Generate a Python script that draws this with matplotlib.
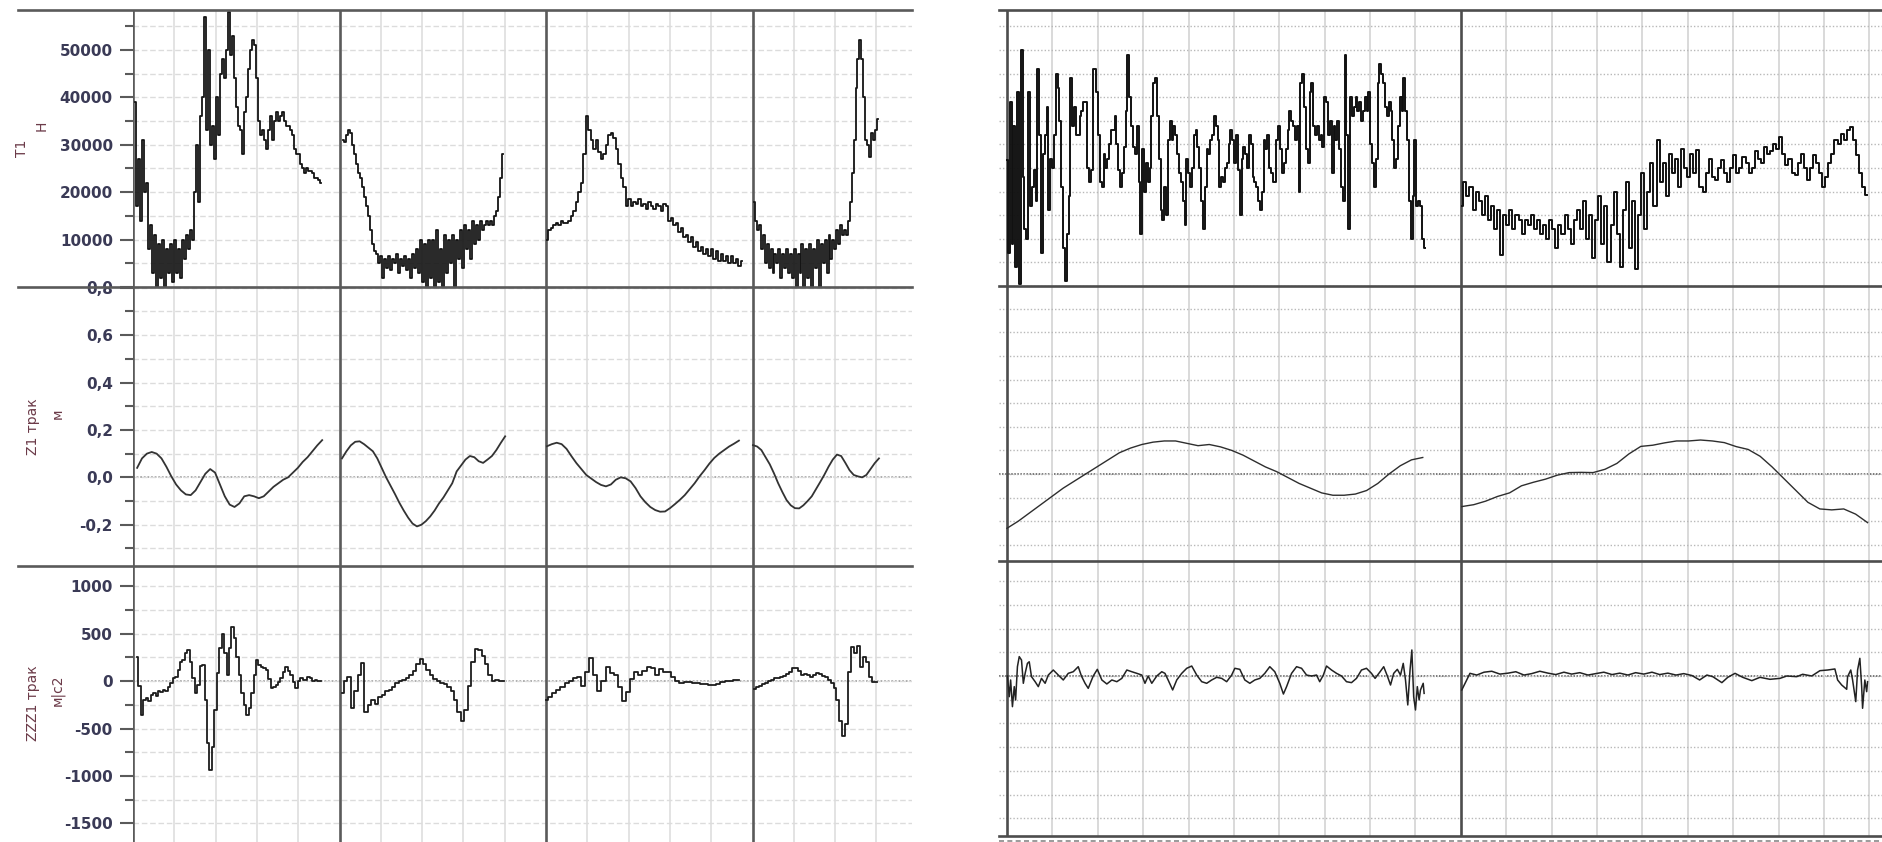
import numpy as np
import matplotlib
matplotlib.use("Agg")
import matplotlib.pyplot as plt
from matplotlib.lines import Line2D
from matplotlib.transforms import Bbox, TransformedBbox
from matplotlib.ticker import MultipleLocator

# ---------------- data ----------------
# left block: 4 passes, time in grid units (5 units per pass)
t1_left_span = [(0.05, 4.55), (5.08, 8.96), (10.02, 14.74), (15.04, 18.03)]
t1_left_kn = [
    [39, 17, 27, 14, 31, 20, 22, 8, 13, 3, 11, 0, 9, 2, 10, 0, 8, 3, 9, 1, 10, 3, 8, 2, 10, 6,
     11, 8, 12, 10, 20, 30, 18, 36, 40, 57, 33, 50, 30, 34, 27, 40, 32, 45, 48, 44, 50, 58, 49,
     53, 44, 38, 34, 33, 28, 37, 40, 46, 50, 52, 51, 44, 35, 32, 33, 31, 29, 33, 36, 31, 35, 37,
     35, 36, 37, 35, 34, 34, 33, 32, 29, 28, 28, 26, 25, 24, 25, 24.5, 24.5, 24, 23, 23, 22.5, 22],
    [31, 30.5, 32, 33, 32.5, 30, 28, 26, 24, 23, 21, 19, 17, 15, 12, 9, 7.5, 7, 5, 6.5, 2, 6, 4,
     6.5, 3.5, 6, 5, 7, 3, 6, 4.5, 6.5, 3.5, 6, 2, 7, 4, 8, 3, 10, 1, 9, 0, 10, 2, 10, 0, 12, 1,
     8, 0, 11, 3, 10, 5, 11, 0, 10, 6, 12, 4, 13, 8, 12, 6, 14, 9, 13, 10, 14, 12, 13, 14, 13,
     14, 13, 15, 16, 19, 23, 28],
    [10, 12, 12.5, 13, 13.5, 13, 14, 13.5, 13.5, 14, 15, 16, 18, 20, 22, 28, 36, 33, 31, 29, 31,
     28.5, 27, 28, 30, 32, 32.5, 31.5, 29, 26, 23, 21, 17, 18.5, 17, 18, 17.5, 18.5, 17, 17.5,
     16.5, 18, 17, 16.5, 17.5, 17, 16, 17.5, 17, 14, 14.5, 13, 13.5, 11.5, 12.5, 10.5, 11, 9.5,
     10.5, 8.5, 9.5, 7.5, 8.5, 7, 8, 6.5, 8, 6, 7.5, 5.5, 7, 5.5, 6.5, 5, 6.5, 5, 6, 4.5, 5.5],
    [18, 14, 12, 13, 8, 11, 5, 9, 4, 8, 3, 7, 5, 8, 2, 7, 4, 8, 3, 7, 2, 8, 0, 7, 3, 9, 0, 8, 2,
     9, 0, 8, 4, 10, 0, 9, 5, 10, 3, 11, 6, 10, 8, 12, 9, 13, 11, 12, 11, 14, 18, 24, 31, 42, 48,
     52, 48, 40, 31, 30, 27.5, 32.5, 31, 33, 35.5],
]

z_left_span = [(0.10, 4.58), (5.06, 9.01), (10.02, 14.67), (15.01, 18.06)]
z_left_m = [
    [0.04, 0.08, 0.10, 0.107, 0.10, 0.08, 0.045, 0.005, -0.03, -0.055, -0.072, -0.075, -0.055,
     -0.02, 0.015, 0.035, 0.02, -0.03, -0.08, -0.115, -0.125, -0.11, -0.08, -0.075, -0.08, -0.088,
     -0.08, -0.06, -0.04, -0.025, -0.01, 0.0, 0.02, 0.04, 0.065, 0.085, 0.11, 0.135, 0.157],
    [0.08, 0.11, 0.135, 0.15, 0.152, 0.14, 0.125, 0.11, 0.08, 0.04, 0.0, -0.035, -0.07, -0.107,
     -0.14, -0.17, -0.195, -0.207, -0.2, -0.185, -0.165, -0.14, -0.11, -0.085, -0.055, -0.025,
     0.025, 0.05, 0.075, 0.09, 0.085, 0.068, 0.061, 0.075, 0.09, 0.115, 0.145, 0.173],
    [0.131, 0.14, 0.146, 0.14, 0.12, 0.089, 0.06, 0.035, 0.01, -0.005, -0.02, -0.032, -0.038,
     -0.03, -0.01, 0.0, -0.004, -0.017, -0.045, -0.08, -0.105, -0.125, -0.138, -0.145, -0.144,
     -0.13, -0.113, -0.095, -0.075, -0.05, -0.025, 0.004, 0.03, 0.058, 0.082, 0.1, 0.115, 0.13,
     0.142, 0.155],
    [0.136, 0.13, 0.115, 0.085, 0.055, 0.017, -0.025, -0.062, -0.096, -0.118, -0.13, -0.131,
     -0.118, -0.1, -0.08, -0.05, -0.02, 0.011, 0.045, 0.075, 0.096, 0.09, 0.061, 0.03, 0.01,
     0.004, 0.0, 0.01, 0.035, 0.06, 0.08],
]

zzz_left_span = [(0.10, 4.55), (5.06, 8.98), (10.0, 14.67), (15.04, 18.01)]
zzz_left_ms2 = [
    [250, -50, -360, -200, -180, -210, -150, -130, -160, -110, -120, -90, -100, -60, -20, 30, 40,
     115, 200, 220, 290, 330, 200, 30, -130, -40, 160, 170, -200, -650, -940, -700, -300, 80, 350,
     500, 300, 60, 350, 570, 450, 250, 60, -130, -250, -360, -280, -130, 60, 220, 170, 150, 140,
     120, 20, -70, -60, -40, -10, 30, 100, 150, 110, 60, -10, -70, 0, 30, 10, 10, 40, 30, 5, 10, 0, 0],
    [-130, 0, 40, -280, -100, 60, 190, -330, -250, -200, -240, -170, -150, -110, -90, -60, -20, 0,
     10, 30, 60, 110, 180, 230, 180, 120, 60, 20, 0, -20, -30, -60, -110, -200, -330, -420, -300,
     -50, 200, 340, 330, 260, 180, 60, 0, 10, 0, 0],
    [-200, -170, -130, -90, -60, -20, 0, 30, 40, -50, 100, 240, 60, -100, 0, 150, 80, 60, -60,
     -210, -120, 20, 100, 60, 110, 150, 140, 60, 130, 90, 100, 40, 0, -20, -15, -10, -20, -20,
     -30, -35, -40, -40, -30, -15, 0, 5, 10, 10],
    [-80, -65, -50, -35, -20, -5, 15, 30, 35, 45, 55, 75, 100, 140, 140, 110, 60, 75, 60, 40, 60,
     85, 75, 55, 40, 10, -20, -70, -200, -420, -575, -450, 100, 360, 300, 370, 150, 250, 200, 40,
     -10, -15],
]

# right block: 2 passes, 10 grid units each
t1_right_span = [(0.0, 9.2), (10.02, 18.94)]
t1_right_kn = [
    [26.7, 6.9, 39, 9, 34, 4, 41, 0.5, 50, 23, 12, 10, 41, 17, 21, 24.5, 18, 46, 32, 7, 28, 32,
     38, 16, 27, 25, 32, 45, 42, 35, 21, 8, 1, 11, 19, 44, 34, 38, 32, 32, 36, 37, 39, 39, 25, 22,
     24.5, 46, 46, 41, 32, 22, 21, 28, 25, 27, 30, 33, 33, 36, 30, 24.5, 21, 24, 29.5, 37, 49, 40,
     34, 29.5, 28, 34, 22, 11, 29, 20, 26, 22, 25, 36, 43, 44, 36, 27, 16, 14, 21, 15, 31, 35, 31,
     34, 32, 28, 24, 22, 18, 13, 27, 24, 21, 25, 32, 33, 29.5, 25, 18, 12, 21, 29, 28, 31, 32, 36,
     34, 31, 21, 23, 22, 25, 26, 30, 33, 31, 26, 32, 24.5, 15, 27, 29.5, 28, 25, 32, 30, 23, 22,
     21, 18, 16, 20, 31, 29, 32, 25, 24, 22, 22, 31, 34, 29, 24, 26, 29, 33, 37, 35, 34, 31, 34,
     20, 43, 45, 38, 29, 26, 41, 43, 34, 32, 34, 31, 32, 29.5, 40, 39, 32, 35, 24, 34, 31, 35, 29,
     21, 18, 49, 32, 12, 40, 36, 38, 40, 37, 39, 35, 37, 40, 37, 41, 30, 26, 21, 27, 43, 47, 45,
     43, 38, 36, 39, 37, 31, 25, 27, 34, 40, 37, 44, 37, 31, 18, 10, 19, 31, 17, 18, 17, 10, 8],
    [17, 22, 19, 21, 16, 20, 18, 15, 19, 14, 17, 12, 16,
     6.5, 15, 13, 16, 12, 15, 14, 11, 14, 13, 15, 12, 14,
     11, 13, 10, 14, 12, 8, 13, 11, 15, 12, 9, 14, 16,
     12, 18, 10, 15, 6, 14, 19, 9, 17, 5, 13, 20, 11,
     4, 16, 22, 8, 18, 3.5, 15, 24, 12, 20, 26, 17, 31,
     22, 26, 19, 28, 24, 27, 21, 29, 25, 23, 28, 24, 28.8,
     21, 20, 24, 27, 23, 22.5, 25, 26.7, 24, 22, 25, 27.7, 24,
     25, 27.4, 26, 24, 25, 28.5, 27, 26, 29.5, 28, 28.5, 30, 29,
     31.6, 28, 25.6, 27, 24, 23.5, 26, 28, 25, 22.5, 25, 27.7, 26,
     24, 21, 23, 26, 28, 31, 30, 32.3, 31, 33, 33.7, 31, 27.7,
     23.9, 21, 19.3],
]

z_right_span = [(0.0, 9.16), (10.02, 18.96)]
z_right_m = [
    [-0.23, -0.2, -0.165, -0.13, -0.095, -0.06, -0.03, 0.0, 0.03, 0.06, 0.09, 0.11, 0.125, 0.135,
     0.14, 0.14, 0.13, 0.12, 0.125, 0.115, 0.1, 0.08, 0.055, 0.03, 0.01, -0.015, -0.04, -0.06,
     -0.08, -0.09, -0.09, -0.085, -0.07, -0.04, 0.0, 0.035, 0.06, 0.07],
    [-0.138, -0.13, -0.115, -0.095, -0.08, -0.05, -0.035, -0.022, -0.005, 0.006, 0.007, 0.006,
     0.02, 0.045, 0.085, 0.117, 0.122, 0.132, 0.14, 0.14, 0.144, 0.14, 0.133, 0.116, 0.104, 0.075,
     0.03, -0.02, -0.07, -0.12, -0.148, -0.152, -0.148, -0.17, -0.206],
]

zzz_right_t1 = [0.01, 0.05, 0.08, 0.12, 0.16, 0.19, 0.23, 0.27, 0.32, 0.36, 0.40, 0.45, 0.49, 0.54,
                0.62, 0.69, 0.76, 0.84, 0.91, 1.02, 1.13, 1.24, 1.35, 1.46, 1.57, 1.64, 1.72, 1.79,
                1.90, 1.99, 2.09, 2.20, 2.31, 2.42, 2.53, 2.64, 2.75, 2.86, 2.97, 3.04, 3.11, 3.19,
                3.30, 3.41, 3.48, 3.55, 3.65, 3.74, 3.85, 3.96, 4.07, 4.18, 4.29, 4.40, 4.51, 4.62,
                4.73, 4.84, 4.95, 5.02, 5.13, 5.24, 5.35, 5.46, 5.57, 5.68, 5.79, 5.90, 6.01, 6.09,
                6.16, 6.27, 6.38, 6.49, 6.60, 6.71, 6.82, 6.89, 6.97, 7.04, 7.15, 7.26, 7.37, 7.48,
                7.59, 7.70, 7.81, 7.92, 8.03, 8.11, 8.22, 8.30, 8.38, 8.45, 8.52, 8.60, 8.67, 8.73,
                8.78, 8.83, 8.88, 8.92, 8.96, 9.00, 9.04, 9.08, 9.11, 9.17, 9.19]
zzz_right_v1 = [0, -218, -42, -323, -112, -253, 98, 204, 168, -77, 28, 133, 150, -7, -60, -112, -25,
                -77, 10, 63, 10, -42, 28, 45, 98, 0, -77, -130, 0, 70, -42, -84, -42, -60, -25, 63,
                45, 28, 10, -77, 0, -77, 0, 45, 28, -42, -147, -42, 28, 81, 105, 10, -60, -77, -42,
                -14, -25, -60, 10, 81, 70, -42, -77, -42, -25, 28, 98, 45, -77, -190, -112, 28, 98,
                81, 10, 0, 10, -60, 10, 105, 63, 28, 0, -60, -70, -25, 63, 81, 28, -25, 45, 98, 0,
                -95, 28, 70, 10, 133, -42, -305, 63, 274, -218, -358, -112, -253, -147, -77, -183]
zzz_right_t2 = [10.02, 10.11, 10.20, 10.35, 10.51, 10.68, 10.86, 11.04, 11.21, 11.39, 11.56, 11.74,
                11.92, 12.09, 12.27, 12.44, 12.62, 12.80, 12.97, 13.15, 13.33, 13.50, 13.68, 13.85,
                14.03, 14.21, 14.38, 14.56, 14.74, 14.91, 15.09, 15.26, 15.42, 15.55, 15.75, 15.88,
                16.04, 16.21, 16.41, 16.59, 16.81, 17.03, 17.18, 17.40, 17.53, 17.73, 17.91, 18.08,
                18.24, 18.30, 18.39, 18.50, 18.52, 18.59, 18.63, 18.70, 18.74, 18.79, 18.83, 18.85,
                18.90, 18.94, 18.96]
zzz_right_v2 = [-147, -60, 28, 10, 40, 50, 20, 30, 45, 10, 25, 50, 30, 15, 40, 20, 35, 10, 25, 40,
                15, 30, 10, 35, 20, 40, 15, 30, 10, 25, 5, -42, 10, -7, -70, -14, 28, -14, -49, -14,
                -35, -25, 0, -7, 18, 0, 56, 63, 74, -42, -95, -140, -7, 63, -42, -270, 63, 186, -112,
                -340, -42, -165, -60]

# ---------------- figure ----------------
W, H = 1883, 842
fig = plt.figure(figsize=(W / 100, H / 100), dpi=100)
fig.patch.set_facecolor("white")

FRAME = "#5a5a5a"
LABEL_COLOR = "#3a3a56"
TITLE_COLOR = "#6b3a48"


def px_axes(x0, y0, x1, y1):
    return fig.add_axes([x0 / W, 1 - y1 / H, (x1 - x0) / W, (y1 - y0) / H])


def hline(x0, x1, y, **kw):
    fig.add_artist(Line2D([x0 / W, x1 / W], [1 - y / H, 1 - y / H],
                          transform=fig.transFigure, **kw))


def clip_labels(ax, y0, y1):
    box = TransformedBbox(Bbox([[0, 1 - y1 / H], [1, 1 - y0 / H]]), fig.transFigure)
    for lab in ax.get_yticklabels():
        lab.set_clip_box(box)
        lab.set_clip_on(True)


def setup_left(ax, ylim, major, labels, minor, zero=False):
    ax.set_xlim(0, 18.86)
    ax.set_ylim(*ylim)
    ax.patch.set_visible(False)
    for s in ax.spines.values():
        s.set_visible(False)
    ax.set_xticks([k for k in range(1, 19) if k % 5])
    ax.tick_params(axis="x", length=0, labelbottom=False)
    ax.set_yticks(major, labels)
    ax.set_yticks(minor, minor=True)
    ax.tick_params(axis="y", which="major", length=9.5, width=1.5, color=FRAME, pad=5,
                   labelsize=11, labelcolor=LABEL_COLOR)
    ax.tick_params(axis="y", which="minor", length=5.5, width=1.5, color=FRAME)
    for lab in ax.get_yticklabels():
        lab.set_fontweight("bold")
    ax.grid(axis="y", which="both", color="#dcdcdc", lw=1.0, ls=(0, (4, 2)))
    ax.grid(axis="x", color="#e0e0e0", lw=1.3)
    if zero:
        ax.axhline(0, color="#a8a8a8", lw=1.3, ls=(0, (1, 1)), zorder=1)
    for x in (0, 5, 10, 15):
        ax.axvline(x, color=FRAME, lw=1.9, zorder=3)


def setup_right(ax, ylim, step, zero=False):
    ax.set_xlim(-0.176, 19.3)
    ax.set_ylim(*ylim)
    ax.patch.set_visible(False)
    for s in ax.spines.values():
        s.set_visible(False)
    ax.set_xticks([k for k in range(1, 20) if k != 10])
    ax.yaxis.set_major_locator(MultipleLocator(step))
    ax.tick_params(length=0, labelleft=False, labelbottom=False)
    ax.grid(axis="y", color="#b8b8b8", lw=1.0, ls=(0, (1, 1.5)))
    ax.grid(axis="x", color="#d9d9d9", lw=1.4)
    if zero:
        ax.axhline(0, color="#555555", lw=1.1, ls=(0, (1, 1)), zorder=1)
    for x in (0, 10):
        ax.axvline(x, color="#4d4d4d", lw=1.9, zorder=3)


# left block
ax_lt = px_axes(133, 10, 912, 287)
ax_lm = px_axes(133, 287, 912, 566)
ax_lb = px_axes(133, 566, 912, 842)

setup_left(ax_lt, (0, 58400), [0, 10000, 20000, 30000, 40000, 50000],
           ["0,0", "10000", "20000", "30000", "40000", "50000"],
           [5000, 15000, 25000, 35000, 45000, 55000])
setup_left(ax_lm, (-0.374, 0.803), [-0.2, 0.0, 0.2, 0.4, 0.6, 0.8],
           ["-0,2", "0,0", "0,2", "0,4", "0,6", "0,8"],
           [-0.3, -0.1, 0.1, 0.3, 0.5, 0.7], zero=True)
setup_left(ax_lb, (-1695, 1211), [-1500, -1000, -500, 0, 500, 1000],
           ["-1500", "-1000", "-500", "0", "500", "1000"],
           [-1250, -750, -250, 250, 750], zero=True)
clip_labels(ax_lt, 0, 287)
clip_labels(ax_lm, 287, 566)

for (a, b), vals in zip(t1_left_span, t1_left_kn):
    ax_lt.plot(np.linspace(a, b, len(vals)), np.array(vals) * 1000, color="#141414",
               lw=1.3, drawstyle="steps-mid", zorder=4)
for (a, b), vals in zip(z_left_span, z_left_m):
    ax_lm.plot(np.linspace(a, b, len(vals)), vals, color="#333333", lw=1.3, zorder=4)
for (a, b), vals in zip(zzz_left_span, zzz_left_ms2):
    ax_lb.plot(np.linspace(a, b, len(vals)), vals, color="#1c1c1c", lw=1.3,
               drawstyle="steps-mid", zorder=4)

# right block
ax_rt = px_axes(999, 10, 1883, 286)
ax_rm = px_axes(999, 286, 1883, 561)
ax_rb = px_axes(999, 561, 1883, 836)
setup_right(ax_rt, (0, 58475), 5000)
setup_right(ax_rm, (-0.3686, 0.7966), 0.1, zero=True)
setup_right(ax_rb, (-1685, 1211), 250, zero=True)

for (a, b), vals in zip(t1_right_span, t1_right_kn):
    ax_rt.plot(np.linspace(a, b, len(vals)), np.array(vals) * 1000, color="#111111",
               lw=1.4, drawstyle="steps-mid", zorder=4)
for (a, b), vals in zip(z_right_span, z_right_m):
    ax_rm.plot(np.linspace(a, b, len(vals)), vals, color="#2e2e2e", lw=1.0, zorder=4)
ax_rb.plot(zzz_right_t1, zzz_right_v1, color="#222222", lw=1.1, zorder=4)
ax_rb.plot(zzz_right_t2, zzz_right_v2, color="#222222", lw=1.1, zorder=4)

# frame lines of the two widgets
for y in (10, 287, 566):
    hline(18, 912, y, color=FRAME, lw=1.9)
for y in (10, 286, 561, 836):
    hline(999, 1883, y, color="#4d4d4d", lw=1.9)
hline(999, 1883, 841, color="#8a8a8a", lw=1.2, ls=(0, (3, 2)))

# axis titles (rotated, two lines: name and unit)
tkw = dict(rotation=90, ha="center", va="center", fontsize=10, color=TITLE_COLOR)
fig.text(22 / W, 1 - 148 / H, "T1", **tkw)
fig.text(42 / W, 1 - 126 / H, "Н", **tkw)
fig.text(33 / W, 1 - 427 / H, "Z1 трак", **tkw)
fig.text(58 / W, 1 - 414 / H, "м", **tkw)
fig.text(33 / W, 1 - 703 / H, "ZZZ1 трак", **tkw)
fig.text(57 / W, 1 - 690 / H, "м|с2", **tkw)

fig.savefig("out.png", dpi=100)
